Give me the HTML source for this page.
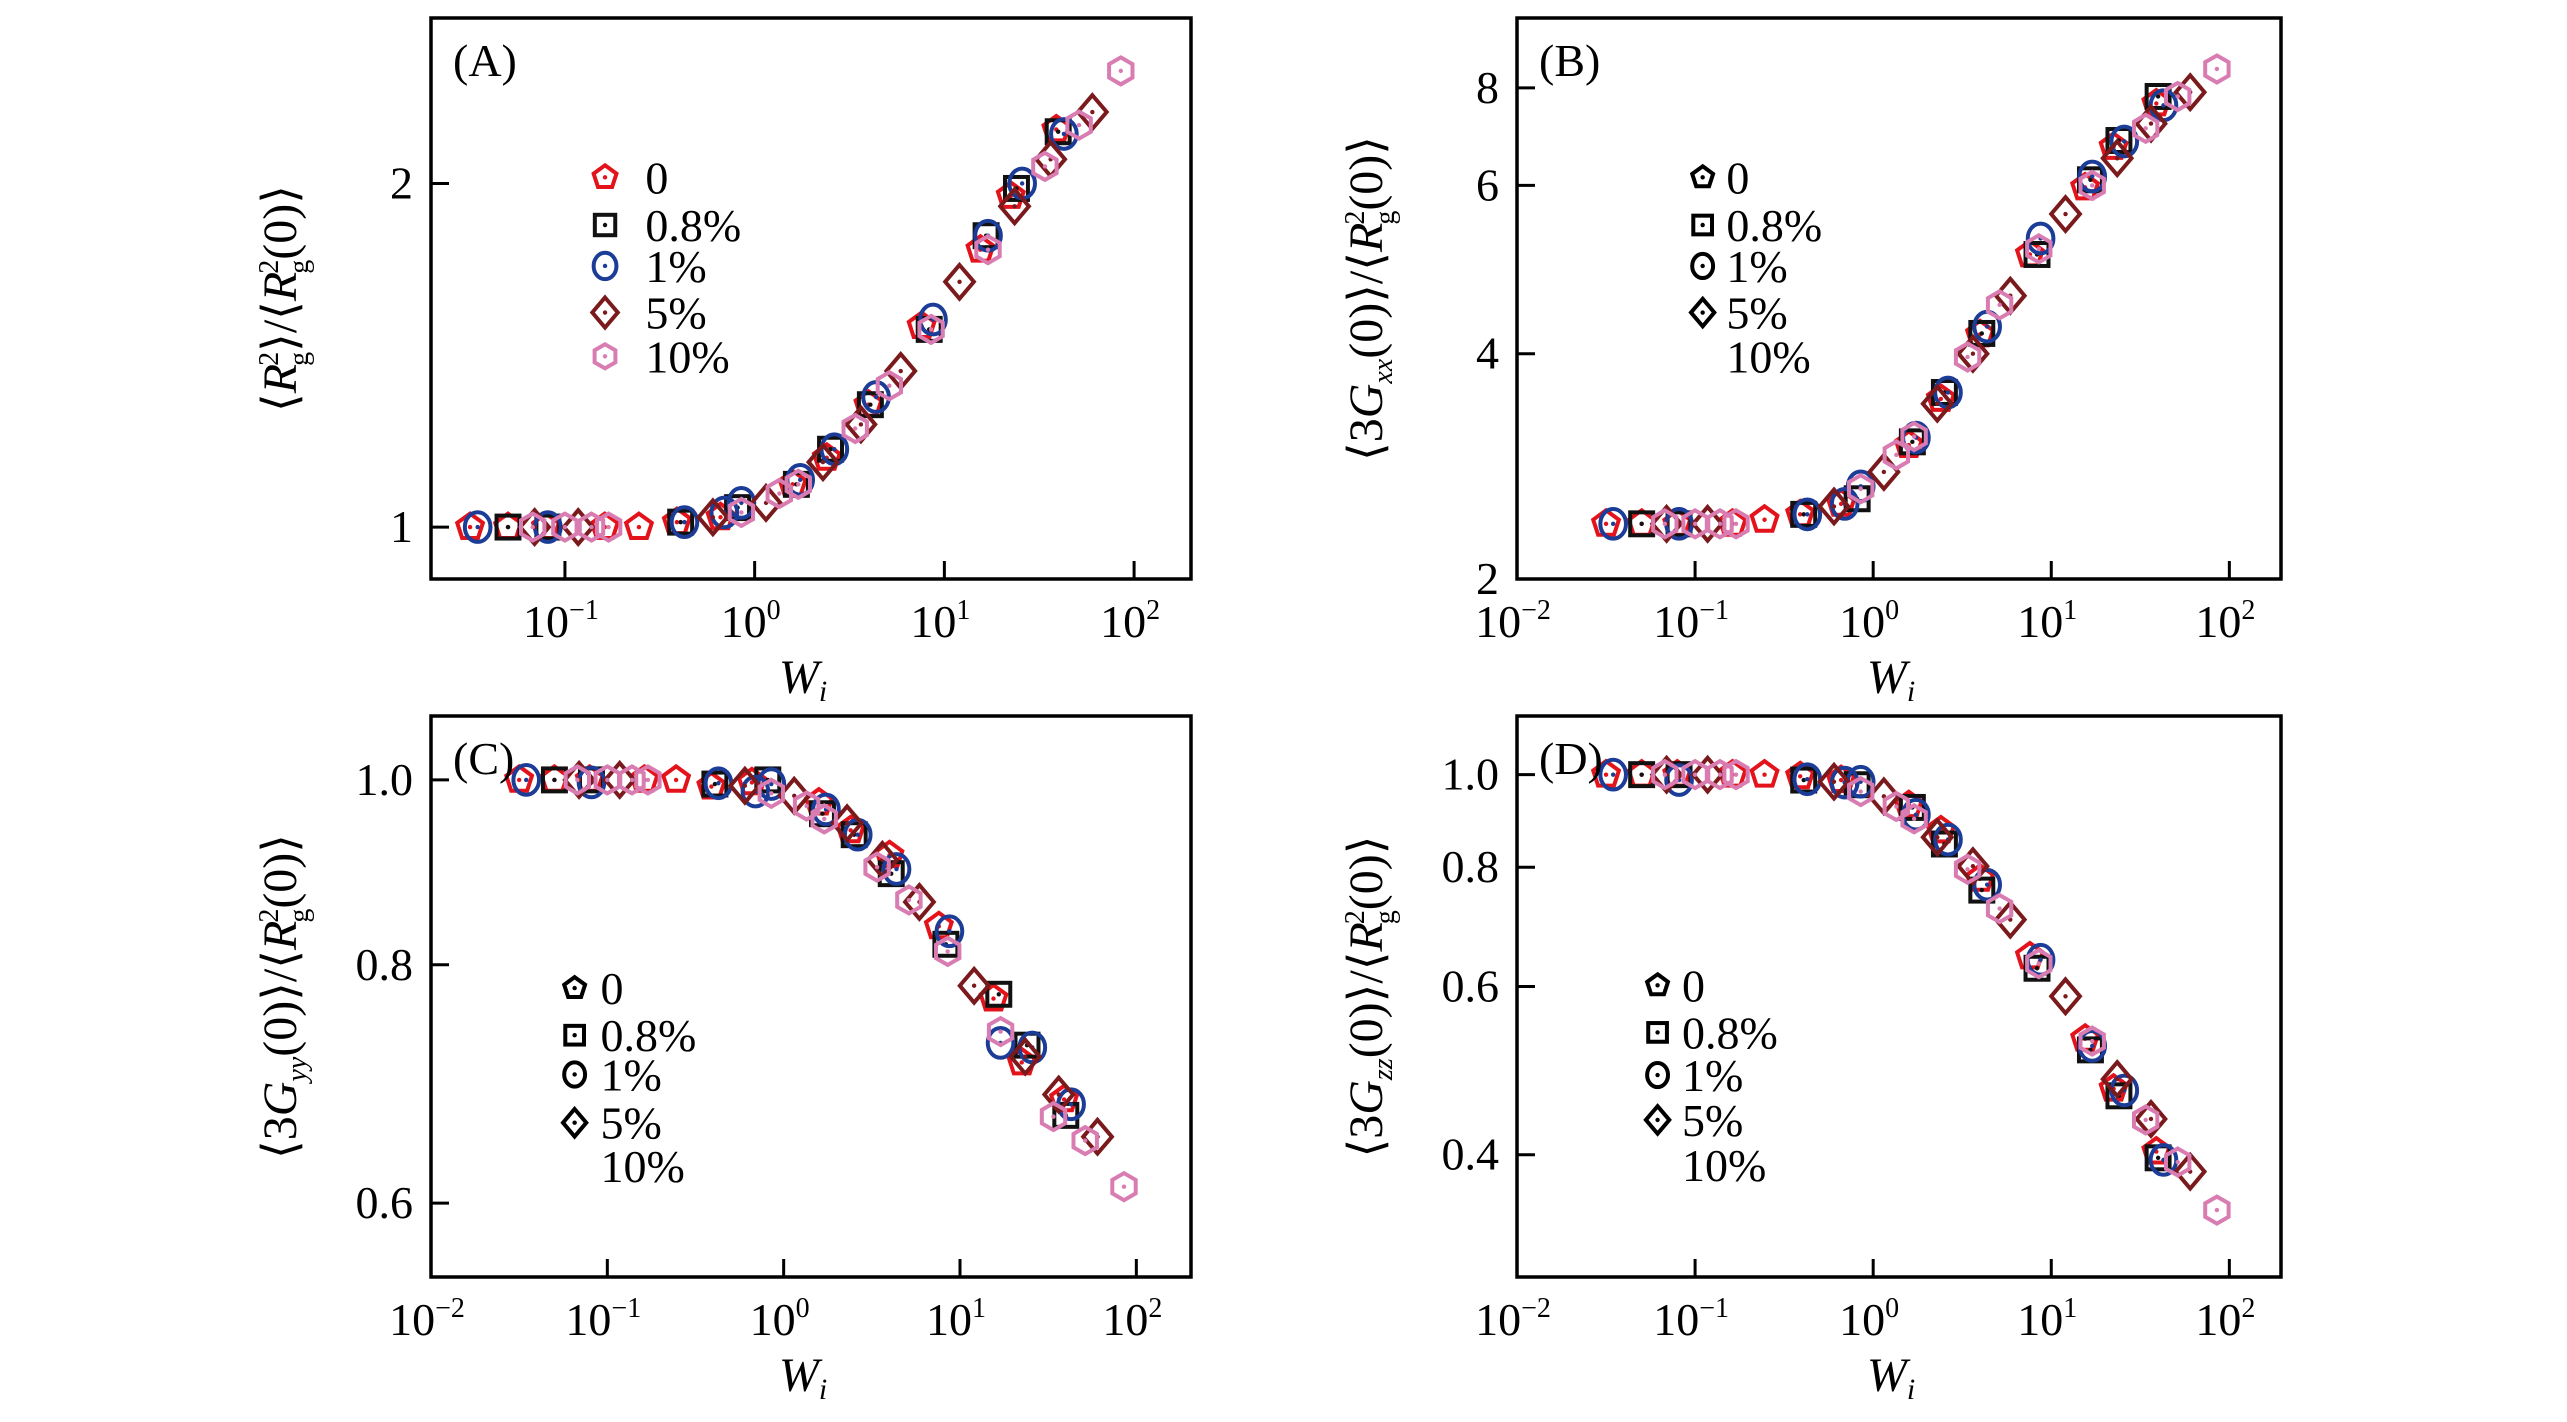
<!DOCTYPE html>
<html><head><meta charset="utf-8"><style>
html,body{margin:0;padding:0;background:#fff;}
svg, svg text{font-family:"Liberation Serif","Times New Roman",serif;}
</style></head><body>
<svg id="fig" width="2567" height="1417" viewBox="0 0 2567 1417" xmlns="http://www.w3.org/2000/svg" font-family="Liberation Serif, serif"></svg>
<script>
// ---- data ----
const seriesNames = ["0","0.8%","1%","5%","10%"];
const wi0  = [-1.50,-1.30,-1.10,-0.79,-0.61,-0.41,-0.18,0.20,0.38,0.60,0.88,1.19,1.35,1.59];
const wi08 = [-1.30,-1.09,-0.39,-0.09,0.22,0.40,0.61,0.92,1.22,1.38,1.60];
const wi1  = [-1.46,-1.09,-0.37,-0.16,-0.07,0.24,0.42,0.64,0.94,1.23,1.41,1.63];
const wi5  = [-1.16,-0.93,-0.22,0.06,0.36,0.56,0.77,1.08,1.37,1.56,1.78];
const wi10 = [-1.17,-1.00,-0.86,-0.77,-0.07,0.13,0.23,0.53,0.71,0.93,1.23,1.53,1.71,1.93];
// panel A: Rg^2 ratio
const a0  = [1.0,1.0,1.0,1.0,1.0,1.01,1.02,1.09,1.15,1.28,1.50,1.75,1.95,2.23];
const a08 = [1.0,1.0,1.01,1.04,1.09,1.17,1.28,1.49,1.80,1.98,2.22];
const a1  = [1.0,1.0,1.01,1.03,1.05,1.10,1.17,1.30,1.52,1.80,2.0,2.21];
const a5  = [1.0,1.0,1.02,1.05,1.14,1.23,1.37,1.64,1.91,2.10,2.31];
const a10 = [1.0,1.0,1.0,1.0,1.03,1.07,1.09,1.22,1.33,1.49,1.75,2.07,2.25,2.51];
// panel B: Gxx
const b0  = [2.37,2.37,2.37,2.37,2.40,2.44,2.52,3.02,3.48,4.19,5.08,5.97,6.72,7.64];
const b08 = [2.37,2.37,2.44,2.56,3.05,3.55,4.2,5.08,6.1,6.85,7.8];
const b1  = [2.37,2.37,2.44,2.52,2.66,3.09,3.55,4.27,5.28,6.16,6.83,7.6];
const b5  = [2.37,2.37,2.5,2.78,3.43,4.0,4.6,5.6,6.5,7.2,7.9];
const b10 = [2.37,2.37,2.37,2.37,2.64,2.93,3.1,3.96,4.5,5.15,6.0,7.1,7.8,8.46];
// panel C: Gyy
const c0  = [1.0,1.0,1.0,1.0,1.0,0.992,0.997,0.973,0.941,0.913,0.838,0.768,0.711,0.68];
const c08 = [1.0,1.0,0.995,1.0,0.96,0.936,0.893,0.82,0.772,0.726,0.667];
const c1  = [1.0,0.997,0.996,0.986,0.995,0.965,0.936,0.898,0.833,0.728,0.724,0.676];
const c5  = [1.0,1.0,0.993,0.981,0.949,0.908,0.863,0.78,0.716,0.684,0.65];
const c10 = [1.0,1.0,1.0,1.0,0.984,0.969,0.954,0.9,0.865,0.813,0.738,0.666,0.647,0.612];
// panel D: Gzz
const d0  = [1.0,1.0,1.0,1.0,1.0,0.996,0.987,0.929,0.874,0.778,0.645,0.529,0.469,0.403];
const d08 = [1.0,1.0,0.987,0.976,0.924,0.846,0.757,0.627,0.515,0.461,0.397];
const d1  = [1.0,0.987,0.989,0.981,0.983,0.908,0.855,0.767,0.64,0.52,0.467,0.395];
const d5  = [1.0,1.0,0.983,0.949,0.86,0.802,0.705,0.586,0.48,0.436,0.384];
const d10 = [1.0,1.0,1.0,1.0,0.96,0.926,0.899,0.796,0.724,0.634,0.526,0.435,0.393,0.35];
// ticks
const yTicksA = [1,2];
const yTicksB = [2,4,6,8];
const yTicksC = [0.6,0.8,1.0];
const yTicksD = [0.4,0.6,0.8,1.0];
const yTickLabelsA = ["1","2"];
const yTickLabelsB = ["2","4","6","8"];
const yTickLabelsC = ["0.6","0.8","1.0"];
const yTickLabelsD = ["0.4","0.6","0.8","1.0"];
const xTicksA = [-1,0,1,2];
const xTicksBCD = [-2,-1,0,1,2];

const NS="http://www.w3.org/2000/svg";
const svg=document.getElementById('fig');
function mk(tag,attrs,parent){const e=document.createElementNS(NS,tag);for(const k in attrs)e.setAttribute(k,attrs[k]);(parent||svg).appendChild(e);return e;}
const FF='"Liberation Serif", serif';

const colors=["#e3131b","#111111","#1b3c97","#7a1a1c","#d97cb2"];
const shapes=["pentagon","square","circle","diamond","hexagon"];

function logScale(lo,hi){return v=>(hi-Math.log10(v))/(hi-lo);}
const bTickFrac=[1.0,0.5984,0.2984,0.1246];
function bScale(v){
  const lv=Math.log10(v), tv=yTicksB.map(t=>Math.log10(t));
  if(lv<=tv[0])return bTickFrac[0];
  for(let i=0;i<tv.length-1;i++){if(lv<=tv[i+1]){const f=(lv-tv[i])/(tv[i+1]-tv[i]);return bTickFrac[i]+f*(bTickFrac[i+1]-bTickFrac[i]);}}
  const s=(bTickFrac[2]-bTickFrac[3])/(tv[3]-tv[2]);return bTickFrac[3]-(lv-tv[3])*s;
}

const panels=[
 {id:"a",label:"(A)",x0:431,x1:1191,y0:18,y1:579,xlo:-1.706,xhi:2.30,yf:logScale(-0.0455,0.446),
  data:[a0,a08,a1,a5,a10],yt:yTicksA,ytl:yTickLabelsA,xt:xTicksA,legX:0.229,legT:0.282,legY:[0.284,0.369,0.442,0.525,0.603],legColor:true,ylab:"R"},
 {id:"b",label:"(B)",x0:1517,x1:2281,y0:18,y1:579,xlo:-2.0,xhi:2.29,yf:bScale,
  data:[b0,b08,b1,b5,b10],yt:yTicksB,ytl:yTickLabelsB,xt:xTicksBCD,legX:0.243,legT:0.274,legY:[0.284,0.369,0.442,0.525,0.603],legColor:false,ylab:"xx"},
 {id:"c",label:"(C)",x0:431,x1:1191,y0:716,y1:1277,xlo:-2.0,xhi:2.31,yf:logScale(-0.2606,0.0335),
  data:[c0,c08,c1,c5,c10],yt:yTicksC,ytl:yTickLabelsC,xt:xTicksBCD,legX:0.189,legT:0.223,legY:[0.485,0.569,0.639,0.725,0.802],legColor:false,ylab:"yy"},
 {id:"d",label:"(D)",x0:1517,x1:2281,y0:716,y1:1277,xlo:-2.0,xhi:2.29,yf:logScale(-0.526,0.0614),
  data:[d0,d08,d1,d5,d10],yt:yTicksD,ytl:yTickLabelsD,xt:xTicksBCD,legX:0.184,legT:0.216,legY:[0.480,0.564,0.640,0.720,0.800],legColor:false,ylab:"zz"}
];
const wis=[wi0,wi08,wi1,wi5,wi10];

function marker(g,shape,cx,cy,col,r){
  let el;
  if(shape==="circle"){el=mk('ellipse',{cx:cx,cy:cy,rx:r*0.95,ry:r*1.1,fill:'none',stroke:col,'stroke-width':4},g);}
  else if(shape==="square"){el=mk('rect',{x:cx-r*0.85,y:cy-r*0.85,width:r*1.7,height:r*1.7,fill:'none',stroke:col,'stroke-width':4},g);}
  else{
    let n=shape==="pentagon"?5:shape==="diamond"?4:6;let rr=shape==="diamond"?r*1.25:r;let pts=[];
    for(let i=0;i<n;i++){const a=-Math.PI/2+i*2*Math.PI/n;pts.push((cx+rr*Math.cos(a)*(shape==="diamond"?0.85:1)).toFixed(1)+","+(cy+rr*Math.sin(a)).toFixed(1));}
    el=mk('polygon',{points:pts.join(' '),fill:'none',stroke:col,'stroke-width':4},g);
  }
  mk('circle',{cx:cx,cy:cy,r:2.2,fill:col},g);
  return el;
}

panels.forEach(p=>{
  const W=p.x1-p.x0,H=p.y1-p.y0;
  const X=l=>p.x0+(l-p.xlo)/(p.xhi-p.xlo)*W;
  const Y=v=>p.y0+p.yf(v)*H;
  const g=mk('g',{});
  
  
  p.data.forEach((ys,si)=>{
    const sg=mk('g',{},g);
    
    
    ys.forEach((v,i)=>{const m=marker(sg,shapes[si],X(wis[si][i]),Y(v),colors[si],13.5);
      
      });
  });
  const fr=mk('rect',{x:p.x0,y:p.y0,width:W,height:H,fill:'none',stroke:'#000','stroke-width':3.5},g);
  
  
  p.yt.forEach((t,i)=>{const y=Y(t);
    mk('line',{x1:p.x0,x2:p.x0+18,y1:y,y2:y,stroke:'#000','stroke-width':3},g);
    const tx=mk('text',{x:p.x0-18,y:y+15,'text-anchor':'end','font-size':46,'font-family':FF},g);tx.textContent=p.ytl[i];
    
    });
  p.xt.forEach(t=>{const x=X(t);
    mk('line',{x1:x,x2:x,y1:p.y1,y2:p.y1-18,stroke:'#000','stroke-width':3},g);
    const tx=mk('text',{x:x-4,y:p.y1+58,'text-anchor':'middle','font-size':46,'font-family':FF},g);
    
    
    const a=mk('tspan',{},tx);a.textContent='10';
    const b=mk('tspan',{dy:-18,'font-size':28},tx);b.textContent=(t<0?'\u2212':'')+Math.abs(t);});
  const pl=mk('text',{x:p.x0+22,y:p.y0+58,'font-size':46,'font-family':FF},g);pl.textContent=p.label;
  
  
  const lg=mk('g',{},g);
  
  
  seriesNames.forEach((n,si)=>{const y=p.y0+p.legY[si]*H;
    if(p.legColor||si<4){marker(lg,shapes[si],p.x0+p.legX*W,y,p.legColor?colors[si]:'#000',p.legColor?12:11);}
    const t=mk('text',{x:p.x0+p.legT*W,y:y+16,'font-size':46,'font-family':FF},lg);t.textContent=n;
    
    });
  const xt=mk('text',{x:(p.x0+p.x1)/2-8,y:p.y1+114,'text-anchor':'middle','font-size':48,'font-style':'italic','font-family':FF},g);
  
  
  const w1=mk('tspan',{},xt);w1.textContent='W';const w2=mk('tspan',{dy:8,'font-size':30},xt);w2.textContent='i';
  const cx=p.x0-135, cy=(p.y0+p.y1)/2;
  const yt=mk('text',{x:cx,y:cy,'text-anchor':'middle','font-size':48,'font-family':FF,transform:`rotate(-90 ${cx} ${cy})`},g);
  
  
  function ts(txt,attrs){const s=mk('tspan',attrs||{},yt);s.textContent=txt;return s;}
  if(p.ylab==="R"){
    ts('\u27E8');ts('R',{'font-style':'italic'});ts('2',{'font-size':28,dy:-18,dx:-2});ts('g',{'font-size':28,dx:-14,dy:30});ts('\u27E9/\u27E8',{dy:-12});
    ts('R',{'font-style':'italic'});ts('2',{'font-size':28,dy:-18,dx:-2});ts('g',{'font-size':28,dx:-14,dy:30});ts('(0)\u27E9',{dy:-12});
  } else {
    ts('\u27E83');ts('G',{'font-style':'italic'});ts(p.ylab,{'font-size':28,'font-style':'italic',dy:10});ts('(0)\u27E9/\u27E8',{dy:-10});
    ts('R',{'font-style':'italic'});ts('2',{'font-size':28,dy:-18,dx:-2});ts('g',{'font-size':28,dx:-14,dy:30});ts('(0)\u27E9',{dy:-12});
  }
});
</script>
</body></html>
